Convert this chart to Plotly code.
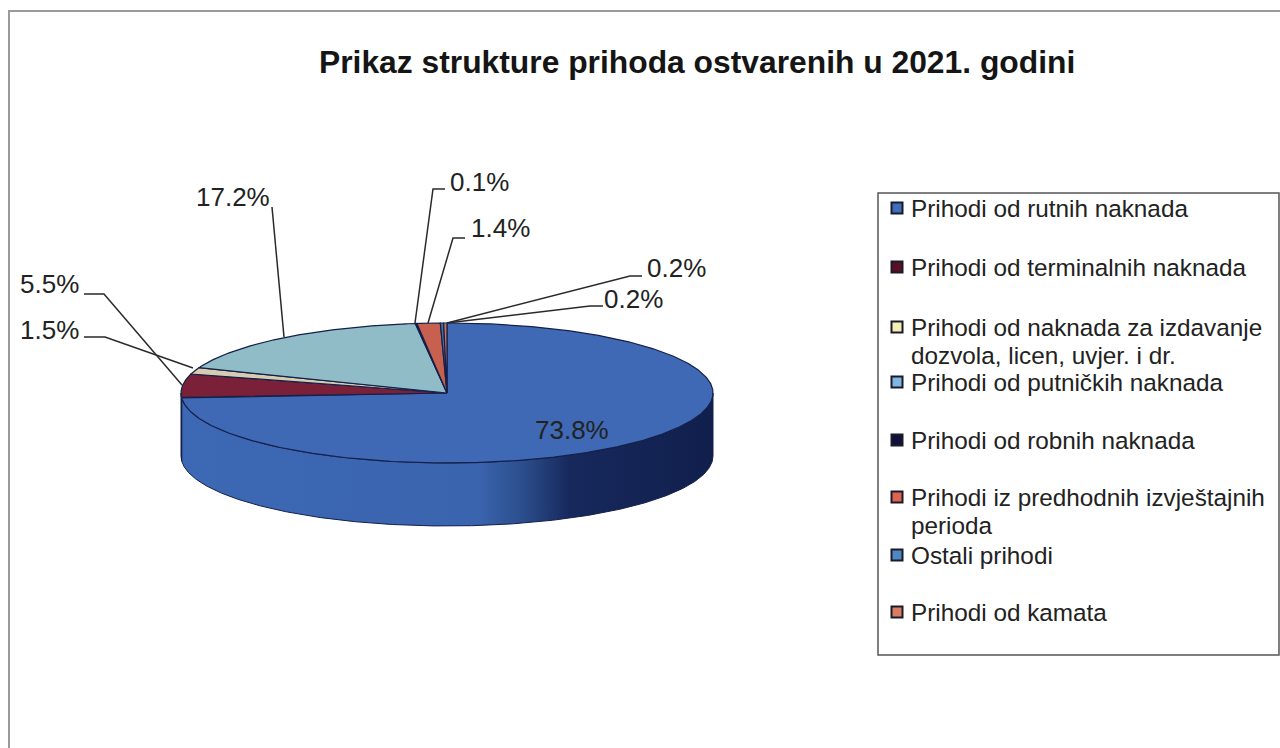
import math
import plotly.graph_objects as go

# ---------- data ----------
categories = [
    "Prihodi od rutnih naknada",
    "Prihodi od terminalnih naknada",
    "Prihodi od naknada za izdavanje<br>dozvola, licen, uvjer. i dr.",
    "Prihodi od putničkih naknada",
    "Prihodi od robnih naknada",
    "Prihodi iz predhodnih izvještajnih<br>perioda",
    "Ostali prihodi",
    "Prihodi od kamata",
]
values = [73.8, 5.5, 1.5, 17.2, 0.1, 1.4, 0.2, 0.2]
slice_colors = ["#3f69b4", "#7a2038", "#d6ccb0", "#8fbcc6", "#1c1c44", "#c8604f", "#3f6f9f", "#c87058"]
swatch_colors = ["#3f6fb8", "#5a1024", "#f6efb4", "#7fb6e2", "#10103a", "#dc6450", "#4f88c0", "#d87c62"]

# ---------- geometry of the tilted pie ----------
CX, CY, RX, RY, DEPTH = 447, 393, 266, 70, 63
TOTAL = sum(values)
W, H = 1280, 748


def pt(theta_deg, dy=0.0):
    t = math.radians(theta_deg)
    return CX + RX * math.sin(t), CY - RY * math.cos(t) + dy


def arc(a, b, dy=0.0):
    n = max(2, int(abs(b - a) * 2))
    return [pt(a + (b - a) * i / n, dy) for i in range(n + 1)]


fig = go.Figure()


def poly(points, **kw):
    xs = [p[0] for p in points] + [points[0][0]]
    ys = [p[1] for p in points] + [points[0][1]]
    fig.add_trace(go.Scatter(x=xs, y=ys, mode="lines", fill="toself", showlegend=False,
                             hoverinfo="skip", **kw))


# slice boundaries, clockwise from 12 o'clock
angles = [0.0]
for v in values:
    angles.append(angles[-1] + 360.0 * v / TOTAL)

# side wall (only the front half, 90..270 deg, is visible)
for i, col in enumerate(slice_colors):
    a, b = max(angles[i], 90), min(angles[i + 1], 270)
    if b <= a:
        continue
    top = arc(a, b)
    bot = arc(b, a, DEPTH)
    if i == 0:
        poly(top + bot,
             line=dict(color="#14204a", width=1),
             fillgradient=dict(type="horizontal", start=181, stop=713,
                               colorscale=[[0, "#3d68b4"], [0.56, "#3a64ae"], [0.64, "#2c4f8e"],
                                           [0.73, "#17285c"], [1, "#101f4c"]]))
    else:
        poly(top + bot, line=dict(color="#14204a", width=1), fillcolor=col)

# top face
for i, col in enumerate(slice_colors):
    poly([(CX, CY)] + arc(angles[i], angles[i + 1]),
         line=dict(color="#14204a", width=1.2), fillcolor=col)

# ---------- outside labels and leader lines ----------
pct_labels = [f"{v:.1f}%" for v in values]
leaders = [
    None,
    [(182, 385), (104, 294), (84, 294)],
    [(193, 368), (105, 337), (84, 337)],
    [(284, 337), (272, 207)],
    [(415, 323), (433, 189), (445, 189)],
    [(428, 323), (453, 238), (465, 238)],
    [(447, 323), (630, 276), (642, 276)],
    [(447, 323), (590, 306), (603, 306)],
]
label_pos = [(533, 430), (18, 284), (18, 330), (194, 197), (448, 182), (469, 228), (645, 268), (602, 299)]

for seg in leaders:
    if seg:
        fig.add_trace(go.Scatter(x=[p[0] for p in seg], y=[p[1] for p in seg], mode="lines",
                                 line=dict(color="#2a2a2a", width=1.5), showlegend=False, hoverinfo="skip"))

annotations = []
for txt, (x, y) in zip(pct_labels, label_pos):
    annotations.append(dict(x=x, y=y, text=txt, showarrow=False, xanchor="left", yanchor="middle",
                            font=dict(family="Liberation Sans", size=26, color="#222222")))

# ---------- legend ----------
legend_rows = [208, 267, 327, 382, 440, 497, 555, 612]
WRAP_GAP = 28
for name, col, y in zip(categories, swatch_colors, legend_rows):
    fig.add_trace(go.Scatter(x=[897], y=[y], mode="markers", showlegend=False, hoverinfo="skip",
                             marker=dict(symbol="square", size=11, color=col,
                                         line=dict(color="#1a1a2a", width=2))))
    for k, part in enumerate(name.split("<br>")):
        annotations.append(dict(x=908.5, y=y + k * WRAP_GAP, text=part, showarrow=False,
                                xanchor="left", yanchor="middle", align="left",
                                font=dict(family="Liberation Sans", size=24.3, color="#222222")))

annotations.append(dict(x=697, y=62, text="<b>Prikaz strukture prihoda ostvarenih u 2021. godini</b>",
                        showarrow=False, xanchor="center", yanchor="middle",
                        font=dict(family="Liberation Sans", size=31.8, color="#151515")))

shapes = [
    dict(type="rect", x0=9, y0=11, x1=1300, y1=800, line=dict(color="#9a9a9a", width=2), fillcolor="rgba(0,0,0,0)", layer="below"),
    dict(type="rect", x0=878, y0=193, x1=1279, y1=655, line=dict(color="#555555", width=1.5), fillcolor="white", layer="below"),
]

fig.update_layout(
    width=W, height=H, margin=dict(l=0, r=0, t=0, b=0),
    paper_bgcolor="white", plot_bgcolor="white", showlegend=False,
    xaxis=dict(range=[0, W], visible=False, fixedrange=True),
    yaxis=dict(range=[H, 0], visible=False, fixedrange=True),
    annotations=annotations, shapes=shapes,
)
fig.write_html("out.html", config={"displayModeBar": False},
               post_script="document.body.style.margin='0';document.body.style.overflow='hidden';")
